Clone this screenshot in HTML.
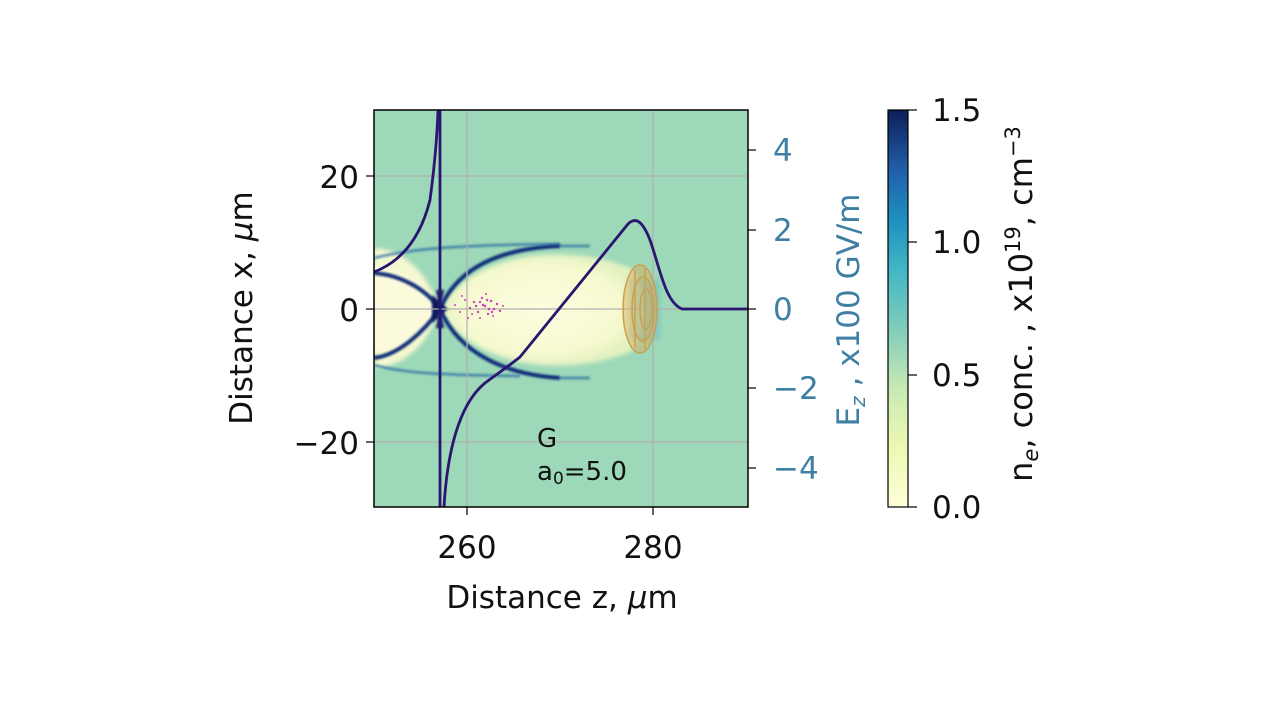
<!DOCTYPE html>
<html><head><meta charset="utf-8"><style>
body{margin:0;background:#fff;}
svg text{font-family:"DejaVu Sans","Liberation Sans",sans-serif;}
</style></head><body>
<svg width="1280" height="720" viewBox="0 0 1280 720" xmlns="http://www.w3.org/2000/svg">
<defs>
<clipPath id="c"><rect x="374" y="110" width="374" height="397"/></clipPath>
<linearGradient id="cb" x1="0" y1="1" x2="0" y2="0">
<stop offset="0" stop-color="#ffffd9"/><stop offset="0.15" stop-color="#edf8b1"/><stop offset="0.3" stop-color="#c7e9b4"/><stop offset="0.45" stop-color="#7fcdbb"/><stop offset="0.6" stop-color="#41b6c4"/><stop offset="0.72" stop-color="#1d91c0"/><stop offset="0.85" stop-color="#225ea8"/><stop offset="1" stop-color="#0c1f5a"/>
</linearGradient>
<radialGradient id="bub" cx="0.5" cy="0.5" r="0.5">
<stop offset="0" stop-color="#fdfde0"/><stop offset="0.8" stop-color="#f6f9cf"/><stop offset="1" stop-color="#e4f2c0"/>
</radialGradient>
<filter id="bl"><feGaussianBlur stdDeviation="2"/></filter>
<filter id="bl1"><feGaussianBlur stdDeviation="1"/></filter>
</defs>
<g clip-path="url(#c)">
<rect x="374" y="110" width="374" height="397" fill="#9dd8b9"/>
<path d="M440,309 C470,255 560,240 630,268 C648,285 648,335 630,352 C560,380 470,365 440,309 Z" fill="url(#bub)" filter="url(#bl)"/>
<path d="M374,248 C410,250 430,280 440,309 C430,338 410,366 374,368 Z" fill="#f4f8cf" filter="url(#bl)"/>
<path d="M374,265 C405,268 428,285 440,309 C428,333 405,350 374,352 Z" fill="#fbfbdc" filter="url(#bl1)"/>
<g fill="none" stroke="#0e2a78" stroke-width="4" filter="url(#bl1)">
<path d="M440,309 C460,262 510,248 560,246"/>
<path d="M440,309 C460,356 510,375 560,378"/>
<path d="M440,309 C425,288 400,275 374,273"/>
<path d="M440,309 C425,330 400,355 374,358"/>
</g>
<g fill="none" stroke="#1d5fa0" stroke-width="2.5" filter="url(#bl1)" opacity="0.7">
<path d="M374,258 C400,252 430,245 560,244"/>
<path d="M374,365 C400,372 430,375 520,376"/>
<path d="M560,246 L590,246"/><path d="M560,378 L590,378"/>
</g>
<path d="M432,295 L448,309 L432,323 Z M436,290 L444,290 L440,309Z M436,328 L444,328 L440,309Z" fill="#101a60" filter="url(#bl1)"/>
<rect x="630" y="280" width="30" height="60" fill="#5bb5c8" opacity="0.4" filter="url(#bl)"/>
<g stroke="#b0b0b0" stroke-width="1.2">
<line x1="467" y1="110" x2="467" y2="507"/><line x1="653" y1="110" x2="653" y2="507"/>
<line x1="374" y1="176" x2="748" y2="176"/><line x1="374" y1="309" x2="748" y2="309"/><line x1="374" y1="442" x2="748" y2="442"/>
</g>
<g fill="#d040c0">
<circle cx="455" cy="305" r="1"/><circle cx="460" cy="312" r="1"/><circle cx="465" cy="300" r="1"/><circle cx="470" cy="308" r="1.2"/><circle cx="474" cy="302" r="1.2"/><circle cx="478" cy="312" r="1.2"/><circle cx="482" cy="298" r="1.2"/><circle cx="485" cy="306" r="1.3"/><circle cx="488" cy="314" r="1.2"/><circle cx="491" cy="301" r="1.3"/><circle cx="494" cy="309" r="1.3"/><circle cx="497" cy="304" r="1.2"/><circle cx="500" cy="311" r="1.2"/><circle cx="503" cy="306" r="1"/><circle cx="480" cy="318" r="1"/><circle cx="486" cy="294" r="1"/><circle cx="468" cy="318" r="1"/><circle cx="462" cy="296" r="1"/><circle cx="493" cy="316" r="1"/><circle cx="489" cy="309" r="1.3"/><circle cx="483" cy="305" r="1.3"/><circle cx="476" cy="306" r="1.2"/><circle cx="480" cy="302" r="1.2"/><circle cx="487" cy="300" r="1.2"/><circle cx="492" cy="312" r="1.2"/><circle cx="472" cy="314" r="1"/>
</g>
<g fill="none" stroke="#c9a050" stroke-width="1.5">
<ellipse cx="640" cy="309" rx="17" ry="44" fill="#d6b060" fill-opacity="0.5"/>
<ellipse cx="643" cy="309" rx="11" ry="32"/>
<ellipse cx="646" cy="309" rx="6" ry="20"/>
<line x1="635" y1="270" x2="635" y2="348"/><line x1="645" y1="268" x2="645" y2="350"/>
</g>
<g fill="none" stroke="#2a1670" stroke-width="2.8">
<line x1="440" y1="110" x2="440" y2="507"/>
<path d="M374,272 C400,262 420,240 430,200 C434,170 437,140 438,110"/>
<path d="M444,507 C447,455 458,405 485,383 C500,372 510,365 520,357 L628,224 C636,216 643,222 650,240 C660,268 665,302 682,309 L748,309"/>
</g>
<text x="537" y="447" font-size="26" fill="#111">G</text>
<text x="537" y="480" font-size="26" fill="#111">a<tspan font-size="17" dy="4">0</tspan><tspan dy="-4">=5.0</tspan></text>
</g>
<rect x="374" y="110" width="374" height="397" fill="none" stroke="#000" stroke-width="1.5"/>
<g stroke="#000" stroke-width="1.2">
<line x1="366" y1="176" x2="374" y2="176"/><line x1="366" y1="309" x2="374" y2="309"/><line x1="366" y1="442" x2="374" y2="442"/>
<line x1="467" y1="507" x2="467" y2="515"/><line x1="653" y1="507" x2="653" y2="515"/>
<line x1="748" y1="150" x2="756" y2="150"/><line x1="748" y1="230" x2="756" y2="230"/><line x1="748" y1="309" x2="756" y2="309"/><line x1="748" y1="388" x2="756" y2="388"/><line x1="748" y1="468" x2="756" y2="468"/>
</g>
<g font-size="31" fill="#111" text-anchor="end">
<text x="359" y="188">20</text><text x="359" y="321">0</text><text x="359" y="454">−20</text>
</g>
<g font-size="31" fill="#111" text-anchor="middle">
<text x="467" y="558">260</text><text x="653" y="558">280</text>
<text x="562" y="608">Distance z, <tspan font-style="italic">μ</tspan>m</text>
</g>
<text transform="translate(252,308) rotate(-90)" font-size="31" fill="#111" text-anchor="middle">Distance x, <tspan font-style="italic">μ</tspan>m</text>
<g font-size="31" fill="#3f7fa3">
<text x="773" y="161">4</text><text x="773" y="241">2</text><text x="773" y="320">0</text><text x="773" y="399">−2</text><text x="773" y="479">−4</text>
</g>
<text transform="translate(859,310) rotate(-90)" font-size="31" fill="#3f7fa3" text-anchor="middle">E<tspan font-size="20" font-style="italic" dy="6">z</tspan><tspan dy="-6"> , x100 GV/m</tspan></text>
<rect x="888" y="110" width="20" height="397" fill="url(#cb)" stroke="#000" stroke-width="1.2"/>
<g stroke="#000" stroke-width="1.2">
<line x1="908" y1="110" x2="917" y2="110"/><line x1="908" y1="242" x2="917" y2="242"/><line x1="908" y1="375" x2="917" y2="375"/><line x1="908" y1="507" x2="917" y2="507"/>
</g>
<g font-size="31" fill="#111">
<text x="932" y="121">1.5</text><text x="932" y="253">1.0</text><text x="932" y="386">0.5</text><text x="932" y="518">0.0</text>
</g>
<text transform="translate(1032,304) rotate(-90)" font-size="32" fill="#111" text-anchor="middle">n<tspan font-size="21" font-style="italic" dy="6">e</tspan><tspan dy="-6">, conc. , x10</tspan><tspan font-size="21" dy="-12">19</tspan><tspan dy="12">, cm</tspan><tspan font-size="21" dy="-12">−3</tspan></text>
</svg>
</body></html>
